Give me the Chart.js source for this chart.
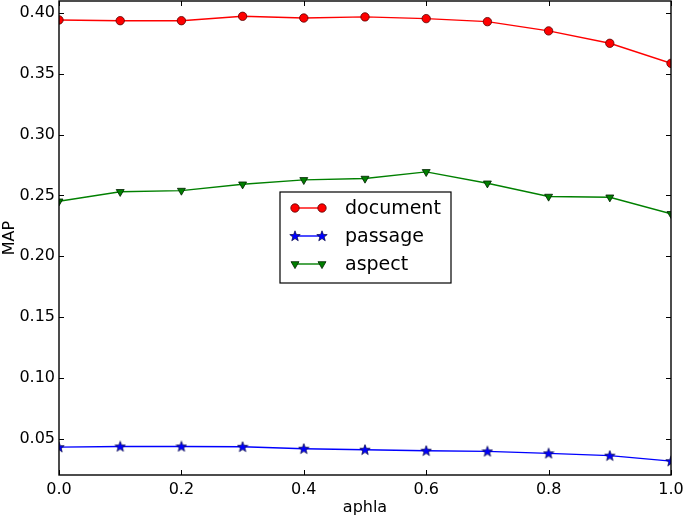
<!DOCTYPE html>
<html>
<head>
<meta charset="utf-8">
<script src="https://cdn.jsdelivr.net/npm/chart.js@4/dist/chart.umd.min.js"></script>
<style>
  body { margin: 0; background: #fff; }
  canvas { display: block; }
</style>
</head>
<body>
<canvas id="grafMap" width="685" height="516"></canvas>
<script>
// valores
const alpha = [0.0, 0.1, 0.2, 0.3, 0.4, 0.5, 0.6, 0.7, 0.8, 0.9, 1.0];
const documentMap = [0.3944, 0.3938, 0.3938, 0.3974, 0.3960, 0.3969, 0.3955, 0.3930, 0.3854, 0.3752, 0.3587];
const passageMap = [0.0429, 0.0435, 0.0435, 0.0432, 0.0416, 0.0408, 0.0400, 0.0394, 0.0378, 0.0359, 0.0314];
const aspectMap = [0.2452, 0.2530, 0.2540, 0.2592, 0.2628, 0.2639, 0.2694, 0.2600, 0.2491, 0.2485, 0.2349];
const xTicks = [0.0, 0.2, 0.4, 0.6, 0.8, 1.0];
const yTicks = [0.05, 0.10, 0.15, 0.20, 0.25, 0.30, 0.35, 0.40];

const FONT = "'DejaVu Sans', sans-serif";

// estrella rellena (el 'star' de Chart.js no va relleno)
function makeStar(fill) {
    const c = document.createElement('canvas');
    c.width = 12; c.height = 12;
    const g = c.getContext('2d');
    g.beginPath();
    for (let i = 0; i < 10; i++) {
        const r = i % 2 === 0 ? 5.5 : 2.3;
        const a = -Math.PI / 2 + i * Math.PI / 5;
        const px = 6 + r * Math.cos(a), py = 6.3 + r * Math.sin(a);
        if (i === 0) g.moveTo(px, py); else g.lineTo(px, py);
    }
    g.closePath();
    g.fillStyle = fill;
    g.fill();
    g.lineWidth = 0.7;
    g.strokeStyle = '#000040';
    g.stroke();
    return c;
}
const starImg = makeStar('#0000ff');

const pts = arr => alpha.map((a, i) => ({ x: a, y: arr[i] }));

// marco, ticks hacia dentro y leyenda
const marco = {
    id: 'marco',
    afterDatasetsDraw(chart) {
        const { ctx, chartArea: a, scales } = chart;
        ctx.save();
        ctx.strokeStyle = '#000';
        ctx.lineWidth = 1;
        xTicks.forEach(v => {
            const px = Math.round(scales.x.getPixelForValue(v)) + 0.5;
            ctx.beginPath();
            ctx.moveTo(px, a.bottom); ctx.lineTo(px, a.bottom - 5);
            ctx.moveTo(px, a.top); ctx.lineTo(px, a.top + 5);
            ctx.stroke();
        });
        yTicks.forEach(v => {
            const py = Math.round(scales.y.getPixelForValue(v)) + 0.5;
            ctx.beginPath();
            ctx.moveTo(a.left, py); ctx.lineTo(a.left + 5, py);
            ctx.moveTo(a.right, py); ctx.lineTo(a.right - 5, py);
            ctx.stroke();
        });
        ctx.lineWidth = 1.4;
        ctx.strokeRect(a.left, a.top, a.right - a.left, a.bottom - a.top);

        // leyenda
        const bx = 280, by = 192, bw = 171, bh = 91;
        ctx.fillStyle = '#fff';
        ctx.fillRect(bx, by, bw, bh);
        ctx.lineWidth = 1.2;
        ctx.strokeStyle = '#000';
        ctx.strokeRect(bx, by, bw, bh);
        ctx.font = '19px ' + FONT;
        ctx.textBaseline = 'middle';
        chart.data.datasets.forEach((ds, i) => {
            const y = by + 16 + i * 28;
            ctx.strokeStyle = ds.borderColor;
            ctx.lineWidth = ds.borderWidth;
            ctx.beginPath();
            ctx.moveTo(295, y); ctx.lineTo(322, y);
            ctx.stroke();
            [295, 322].forEach(x => {
                ctx.fillStyle = ds.pointBackgroundColor;
                ctx.strokeStyle = ds.pointBorderColor;
                ctx.lineWidth = ds.pointBorderWidth;
                Chart.helpers.drawPoint(ctx, {
                    pointStyle: ds.pointStyle,
                    radius: ds.pointRadius,
                    rotation: ds.pointRotation || 0,
                    borderWidth: ds.pointBorderWidth
                }, x, y);
            });
            ctx.fillStyle = '#000';
            ctx.fillText(ds.label, 345, y + 1);
        });
        ctx.restore();
    }
};

const ctxMap = document.getElementById('grafMap').getContext('2d');
const grafMap = new Chart(ctxMap, {
    type: 'line',
    data: {
        datasets: [{
            label: 'document',
            data: pts(documentMap),
            borderColor: '#ff0000',
            borderWidth: 1.4,
            pointStyle: 'circle',
            pointRadius: 4.2,
            pointBackgroundColor: '#ff0000',
            pointBorderColor: '#550000',
            pointBorderWidth: 0.8
        }, {
            label: 'passage',
            data: pts(passageMap),
            borderColor: '#0000ff',
            borderWidth: 1.4,
            pointStyle: starImg,
            pointRadius: 5,
            pointBackgroundColor: '#0000ff',
            pointBorderColor: '#000040',
            pointBorderWidth: 0.7
        }, {
            label: 'aspect',
            data: pts(aspectMap),
            borderColor: '#008000',
            borderWidth: 1.4,
            pointStyle: 'triangle',
            pointRotation: 180,
            pointRadius: 4.6,
            pointBackgroundColor: '#008000',
            pointBorderColor: '#002000',
            pointBorderWidth: 0.8
        }]
    },
    options: {
        responsive: false,
        animation: false,
        devicePixelRatio: 1,
        layout: { autoPadding: false, padding: { top: 1, right: 14, left: 0, bottom: 0 } },
        plugins: { legend: { display: false }, tooltip: { enabled: false } },
        scales: {
            x: {
                type: 'linear',
                min: 0, max: 1,
                grid: { display: false, drawTicks: false },
                border: { display: false },
                afterBuildTicks: s => { s.ticks = xTicks.map(v => ({ value: v })); },
                afterFit: s => { s.height = 41; s.paddingLeft = 0; s.paddingRight = 0; },
                ticks: {
                    padding: 5,
                    color: '#000',
                    font: { family: FONT, size: 16 },
                    maxRotation: 0,
                    callback: v => v.toFixed(1)
                },
                title: {
                    display: true, text: 'aphla', color: '#000',
                    font: { family: FONT, size: 16, lineHeight: 1 },
                    padding: { top: 0, bottom: 0 }
                }
            },
            y: {
                min: 0.02, max: 0.41,
                grid: { display: false, drawTicks: false },
                border: { display: false },
                afterBuildTicks: s => { s.ticks = yTicks.map(v => ({ value: v })); },
                afterFit: s => { s.width = 59; s.paddingTop = 0; s.paddingBottom = 0; },
                ticks: {
                    padding: 4,
                    color: '#000',
                    font: { family: FONT, size: 16 },
                    callback: v => v.toFixed(2)
                },
                title: {
                    display: true, text: 'MAP', color: '#000',
                    font: { family: FONT, size: 16 },
                    padding: { top: 0, bottom: 0 }
                }
            }
        }
    },
    plugins: [marco]
});
</script>
</body>
</html>
